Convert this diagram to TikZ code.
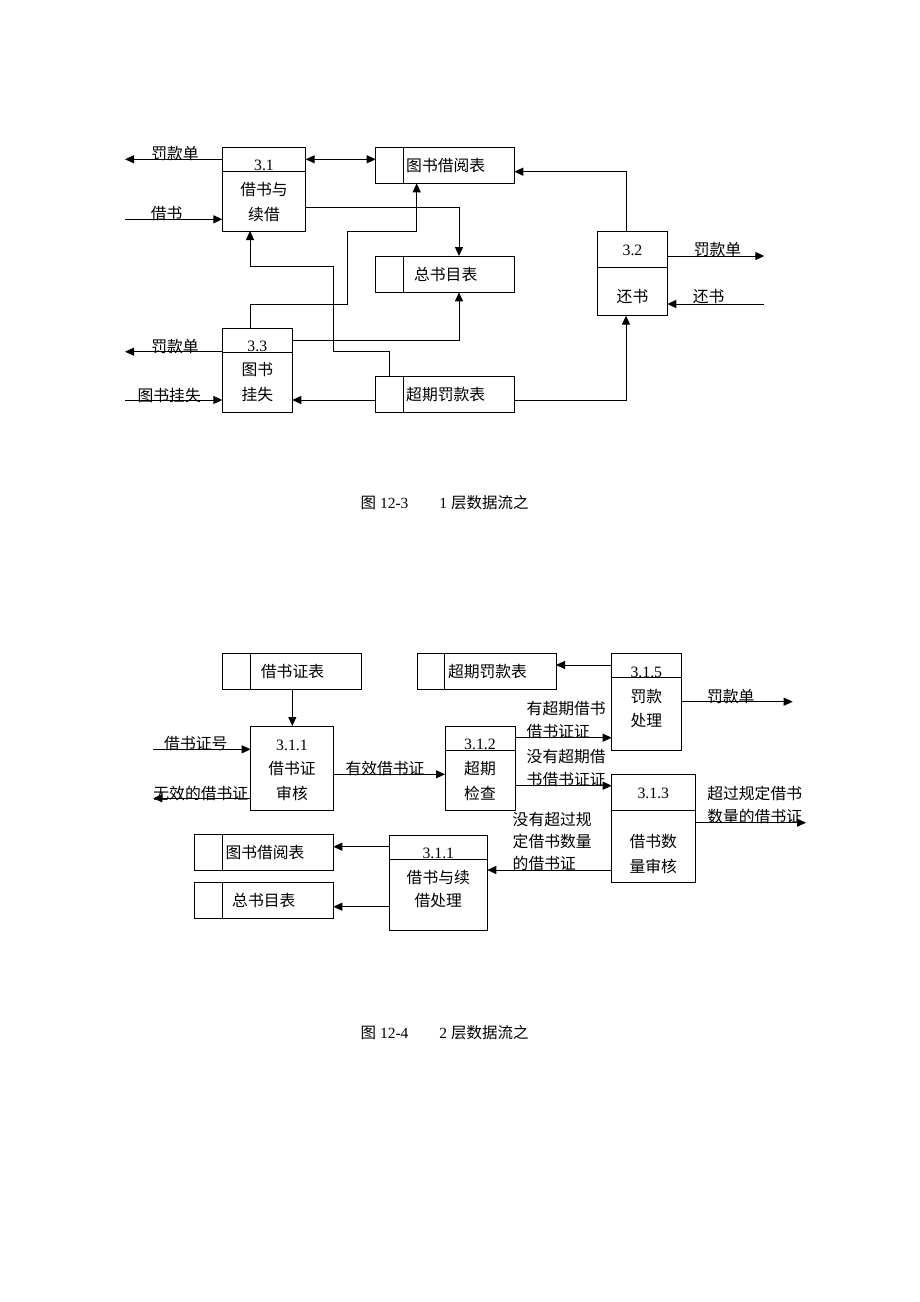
\documentclass[tikz,border=0pt]{standalone}
\usepackage{fontspec}
\setmainfont{Liberation Serif}
\newfontfamily\cjk{Noto Sans CJK SC}
\usetikzlibrary{arrows.meta}
\begin{document}
\begin{tikzpicture}[x=1pt,y=-1pt,
  every node/.style={inner sep=0pt, outer sep=0pt},
  box/.style={draw, line width=1pt, anchor=north west, rectangle},
  txt/.style={font=\cjk\fontsize{15.8}{25}\selectfont, align=center},
  txtb/.style={font=\cjk\fontsize{15.8}{23.4}\selectfont, align=center},
  num/.style={font=\fontsize{15.8}{18}\selectfont, anchor=base},
  numc/.style={font=\fontsize{15.8}{18}\selectfont},
  lab/.style={font=\cjk\fontsize{15.8}{23}\selectfont, align=left},
  arr/.style={draw, line width=1pt, -{Triangle[length=9pt,width=8pt]}},
  darr/.style={draw, line width=1pt, {Triangle[length=9pt,width=8pt]}-{Triangle[length=9pt,width=8pt]}},
  ln/.style={draw, line width=1pt}]
\useasboundingbox[fill=white] (0,0) rectangle (920,1302);

% ================= Figure 12-3 =================
% processes
\node[box, minimum width=83.4pt, minimum height=83.7pt] (p31) at (222.3,147.3) {};
\draw[ln] ([yshift=-24.4pt]p31.north west) -- ([yshift=-24.4pt]p31.north east);
\node[num] (p31n) at (264,170.7) {3.1};
\node[txt] (p31t) at (264,202.5) {借书与\\续借};

\node[box, minimum width=70pt, minimum height=84.4pt] (p33) at (222.3,328.3) {};
\draw[ln] ([yshift=-24pt]p33.north west) -- ([yshift=-24pt]p33.north east);
\node[num] (p33n) at (257.3,351.3) {3.3};
\node[txt] (p33t) at (257.3,382.5) {图书\\挂失};

\node[box, minimum width=69.6pt, minimum height=84pt] (p32) at (597.7,231.7) {};
\draw[ln] ([yshift=-36pt]p32.north west) -- ([yshift=-36pt]p32.north east);
\node[numc] (p32n) at (632.5,250) {3.2};
\node[txt] (p32t) at (632.5,296.7) {还书};

% stores
\node[box, minimum width=138.6pt, minimum height=36pt] (sjy) at (375.7,147.3) {};
\draw[ln] ([xshift=27.6pt]sjy.north west) -- ([xshift=27.6pt]sjy.south west);
\node[txt] (sjyt) at (445.7,165.3) {图书借阅表};

\node[box, minimum width=138.6pt, minimum height=36.3pt] (szs) at (375.7,256) {};
\draw[ln] ([xshift=27.6pt]szs.north west) -- ([xshift=27.6pt]szs.south west);
\node[txt] (szst) at (445.7,274.2) {总书目表};

\node[box, minimum width=138.6pt, minimum height=36pt] (scq) at (375.7,376.7) {};
\draw[ln] ([xshift=27.6pt]scq.north west) -- ([xshift=27.6pt]scq.south west);
\node[txt] (scqt) at (445.7,394.7) {超期罚款表};

% coordinates
\coordinate (o1) at (125,159.3);
\coordinate (i1) at (125,219.3);
\coordinate (o3) at (125,351.7);
\coordinate (i3) at (125,400);
\coordinate (o2) at (764.3,256);
\coordinate (i2) at (764.3,304);
\coordinate (y1) at (0,159.3);
\coordinate (y2) at (0,400);
\coordinate (c1) at (459,207.7);
\coordinate (c2) at (459,340);
\coordinate (c3) at (626,400);
\coordinate (c4) at (626,171.7);
\coordinate (a1) at (250,304);
\coordinate (a2) at (347.7,304);
\coordinate (a3) at (347.7,231.7);
\coordinate (a4) at (416.7,231.7);
\coordinate (b1) at (389.3,351.7);
\coordinate (b2) at (333.3,351.7);
\coordinate (b3) at (333.3,266.7);
\coordinate (b4) at (250,266.7);

% flows
\draw[arr] (p31.west |- o1) -- (o1);
\draw[arr] (i1) -- (p31.west |- i1);
\draw[darr] (p31.east |- y1) -- (sjy.west |- y1);
\draw[arr] (p31.east |- c1) -- (c1) -- (c1 |- szs.north);
\draw[arr] (a1 |- p33.north) -- (a1) -- (a2) -- (a3) -- (a4) -- (a4 |- sjy.south);
\draw[arr] (p33.east |- c2) -- (c2) -- (c2 |- szs.south);
\draw[arr] (b1 |- scq.north) -- (b1) -- (b2) -- (b3) -- (b4) -- (b4 |- p31.south);
\draw[arr] (scq.west |- y2) -- (p33.east |- y2);
\draw[arr] (scq.east |- c3) -- (c3) -- (c3 |- p32.south);
\draw[arr] (c4 |- p32.north) -- (c4) -- (sjy.east |- c4);
\draw[arr] (p32.east |- o2) -- (o2);
\draw[arr] (i2) -- (p32.east |- i2);
\draw[arr] (p33.west |- o3) -- (o3);
\draw[arr] (i3) -- (p33.west |- i3);

% flow labels
\node[txt] (l1) at (175,153.3) {罚款单};
\node[txt] (l2) at (166.7,213.3) {借书};
\node[txt] (l3) at (175,346) {罚款单};
\node[txt] (l4) at (169.2,395) {图书挂失};
\node[txt] (l5) at (717.5,249.3) {罚款单};
\node[txt] (l6) at (708.7,296.7) {还书};

% caption
\node[anchor=west, font=\fontsize{15.5}{18}\selectfont] (cap1) at (360.7,502.7) {{\cjk 图} 12-3\hspace{31pt}1 {\cjk 层数据流之}};

% ================= Figure 12-4 =================
\node[box, minimum width=138.3pt, minimum height=36pt] (sjzb) at (222.7,653.3) {};
\draw[ln] ([xshift=27.6pt]sjzb.north west) -- ([xshift=27.6pt]sjzb.south west);
\node[txt] (sjzbt) at (292.5,671.3) {借书证表};

\node[box, minimum width=138.7pt, minimum height=36pt] (scq2) at (417.3,653.3) {};
\draw[ln] ([xshift=27.6pt]scq2.north west) -- ([xshift=27.6pt]scq2.south west);
\node[txt] (scq2t) at (487.5,671.3) {超期罚款表};

\node[box, minimum width=139pt, minimum height=35.7pt] (sjy2) at (194.3,834.3) {};
\draw[ln] ([xshift=28pt]sjy2.north west) -- ([xshift=28pt]sjy2.south west);
\node[txt] (sjy2t) at (265,852.2) {图书借阅表};

\node[box, minimum width=139pt, minimum height=35.6pt] (szs2) at (194.3,882.7) {};
\draw[ln] ([xshift=28pt]szs2.north west) -- ([xshift=28pt]szs2.south west);
\node[txt] (szs2t) at (263.8,900.5) {总书目表};

\node[box, minimum width=82.6pt, minimum height=84pt] (p311) at (250.7,726) {};
\node[numc] (p311n) at (292,745) {3.1.1};
\node[txt] (p311t) at (292,780.8) {借书证\\审核};

\node[box, minimum width=70pt, minimum height=84pt] (p312) at (445,726) {};
\draw[ln] ([yshift=-24pt]p312.north west) -- ([yshift=-24pt]p312.north east);
\node[num] (p312n) at (480,749.3) {3.1.2};
\node[txt] (p312t) at (480,780.8) {超期\\检查};

\node[box, minimum width=69.3pt, minimum height=96.7pt] (p315) at (611.7,653.3) {};
\draw[ln] ([yshift=-24.4pt]p315.north west) -- ([yshift=-24.4pt]p315.north east);
\node[num] (p315n) at (646.3,677) {3.1.5};
\node[txtb] (p315t) at (646.3,708.3) {罚款\\处理};

\node[box, minimum width=83.3pt, minimum height=108pt] (p313) at (611.7,774.3) {};
\draw[ln] ([yshift=-35.7pt]p313.north west) -- ([yshift=-35.7pt]p313.north east);
\node[numc] (p313n) at (653.3,793.3) {3.1.3};
\node[txt] (p313t) at (653.3,854.2) {借书数\\量审核};

\node[box, minimum width=98pt, minimum height=95pt] (p311b) at (389.3,835) {};
\draw[ln] ([yshift=-24pt]p311b.north west) -- ([yshift=-24pt]p311b.north east);
\node[num] (p311bn) at (438.3,858.3) {3.1.1};
\node[txtb] (p311bt) at (438.3,889) {借书与续\\借处理};

% coordinates
\coordinate (d1) at (292.3,0);
\coordinate (i4) at (153.3,749.3);
\coordinate (o4) at (153.3,798.3);
\coordinate (y3) at (0,774.3);
\coordinate (y4) at (0,665);
\coordinate (o5) at (792.7,701.7);
\coordinate (y5) at (0,737.7);
\coordinate (y6) at (0,785.7);
\coordinate (o6) at (806,822.7);
\coordinate (y7) at (0,870);
\coordinate (y8) at (0,846.7);
\coordinate (y9) at (0,906.7);

% flows
\draw[arr] (d1 |- sjzb.south) -- (d1 |- p311.north);
\draw[arr] (i4) -- (p311.west |- i4);
\draw[arr] (p311.west |- o4) -- (o4);
\draw[arr] (p311.east |- y3) -- (p312.west |- y3);
\draw[arr] (p315.west |- y4) -- (scq2.east |- y4);
\draw[arr] (p315.east |- o5) -- (o5);
\draw[arr] (p312.east |- y5) -- (p315.west |- y5);
\draw[arr] (p312.east |- y6) -- (p313.west |- y6);
\draw[arr] (p313.east |- o6) -- (o6);
\draw[arr] (p313.west |- y7) -- (p311b.east |- y7);
\draw[arr] (p311b.west |- y8) -- (sjy2.east |- y8);
\draw[arr] (p311b.west |- y9) -- (szs2.east |- y9);

% flow labels
\node[txt] (m1) at (195.8,743.3) {借书证号};
\node[txt] (m2) at (200.8,793.3) {无效的借书证};
\node[txt] (m3) at (385,768.3) {有效借书证};
\node[txt] (m4) at (730.8,696.7) {罚款单};
\node[lab, anchor=west] (m5) at (526.7,720) {有超期借书\\借书证证};
\node[lab, anchor=west] (m6) at (526.7,767.8) {没有超期借\\书借书证证};
\node[lab, anchor=west] (m7) at (707.3,805) {超过规定借书\\数量的借书证};
\node[lab, anchor=west, font=\cjk\fontsize{15.8}{22.3}\selectfont] (m8) at (512.7,841.7) {没有超过规\\定借书数量\\的借书证};

% caption
\node[anchor=west, font=\fontsize{15.5}{18}\selectfont] (cap2) at (360.7,1032.7) {{\cjk 图} 12-4\hspace{31pt}2 {\cjk 层数据流之}};
\end{tikzpicture}
\end{document}
